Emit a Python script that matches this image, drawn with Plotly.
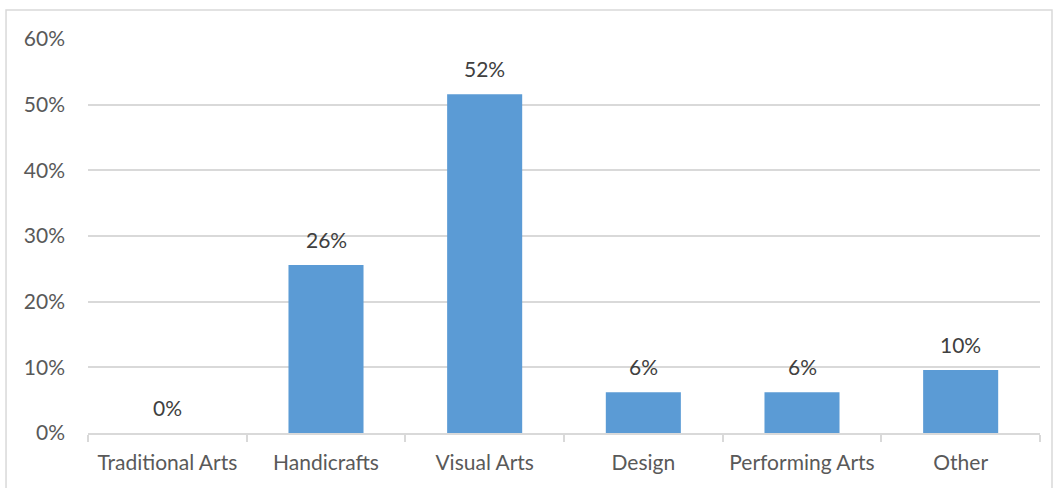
import plotly.graph_objects as go

categories = ["Traditional Arts", "Handicrafts", "Visual Arts", "Design", "Performing Arts", "Other"]
shares = [0.0, 0.256, 0.516, 0.062, 0.062, 0.096]
y_ticks = [0, 0.1, 0.2, 0.3, 0.4, 0.5, 0.6]

FONT = "Lato"
FONT_SIZE = 21
BAR_COLOR = "#5B9BD5"
GRID = "#D9D9D9"
TEXT = "#595959"

fig = go.Figure(
    go.Bar(
        x=categories,
        y=shares,
        marker=dict(color=BAR_COLOR, line=dict(width=0)),
        hoverinfo="skip",
    )
)

# value labels above each bar
for cat, val in zip(categories, shares):
    fig.add_annotation(
        x=cat, y=val, text=f"{val:.0%}", showarrow=False,
        yanchor="bottom", yshift=11,
        font=dict(family=FONT, size=FONT_SIZE, color="#404040"),
    )

# chart frame
fig.add_shape(
    type="rect", xref="paper", yref="paper",
    x0=-0.0861, x1=1.0126, y0=-0.3, y1=1.0736,
    line=dict(color=GRID, width=1.5), fillcolor="rgba(0,0,0,0)", layer="below",
)

fig.update_layout(
    width=1059, height=488,
    margin=dict(l=88, r=19, t=39, b=55),
    paper_bgcolor="white", plot_bgcolor="white",
    bargap=0.527,
    showlegend=False,
    font=dict(family=FONT, size=FONT_SIZE, color=TEXT),
)
fig.update_xaxes(
    showline=True, linecolor=GRID, linewidth=1.5,
    ticks="outside", tickson="boundaries", ticklen=7, tickcolor=GRID, tickwidth=1.5,
    showgrid=False, ticklabelstandoff=10,
    tickfont=dict(family=FONT, size=FONT_SIZE, color=TEXT),
)
fig.update_yaxes(
    range=[0, 0.6], tickvals=y_ticks, tickformat=".0%",
    showgrid=True, gridcolor=GRID, gridwidth=1.5,
    zeroline=False, showline=False, ticks="",
    ticklabelstandoff=22,
    tickfont=dict(family=FONT, size=FONT_SIZE, color=TEXT),
)

fig.write_html("out.html")
